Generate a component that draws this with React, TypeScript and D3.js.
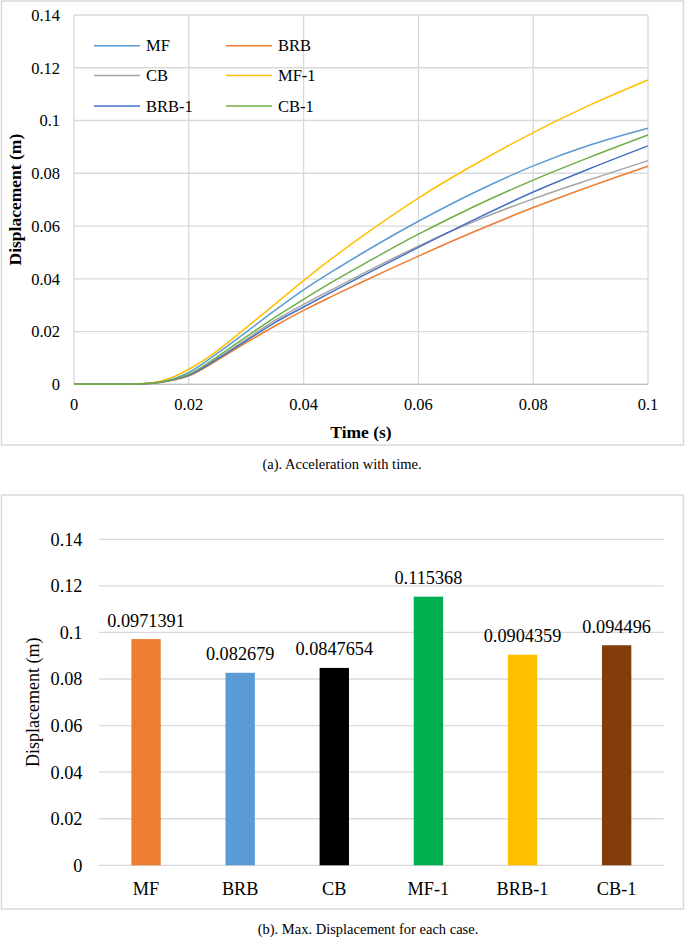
import React from "react";
import * as d3 from "d3";

const times = [0, 0.008, 0.012, 0.015, 0.0175, 0.02, 0.025, 0.03, 0.035, 0.04, 0.045, 0.05, 0.06, 0.07, 0.08, 0.09, 0.1];
const seriesNames = ["MF", "BRB", "CB", "MF-1", "BRB-1", "CB-1"];
const lineColors = ["#5B9BD5", "#ED7D31", "#A5A5A5", "#FFC000", "#4472C4", "#70AD47"];
const mfLine = [0, 0, 0.0002, 0.001, 0.0022, 0.0045, 0.0118, 0.0198, 0.028, 0.0358, 0.0428, 0.0494, 0.0618, 0.073, 0.0828, 0.0908, 0.0971];
const brbLine = [0, 0, 0.0002, 0.0007, 0.0017, 0.0032, 0.0092, 0.0158, 0.0221, 0.028, 0.0334, 0.0386, 0.0486, 0.0581, 0.067, 0.0751, 0.0827];
const cbLine = [0, 0, 0.0002, 0.0008, 0.0018, 0.0035, 0.0098, 0.017, 0.0242, 0.0303, 0.036, 0.0416, 0.0524, 0.062, 0.0703, 0.0777, 0.0848];
const mf1Line = [0, 0, 0.0003, 0.0012, 0.003, 0.0057, 0.0128, 0.0215, 0.0303, 0.0393, 0.0478, 0.0558, 0.0706, 0.0836, 0.0954, 0.106, 0.1154];
const brb1Line = [0, 0, 0.0002, 0.0008, 0.0018, 0.0034, 0.0096, 0.0165, 0.0234, 0.0293, 0.0351, 0.0408, 0.0519, 0.0627, 0.0729, 0.0819, 0.0904];
const cb1Line = [0, 0, 0.0002, 0.0008, 0.002, 0.0038, 0.0105, 0.018, 0.0254, 0.0322, 0.0388, 0.045, 0.0569, 0.0677, 0.0774, 0.0862, 0.0945];
const lineValues = [mfLine, brbLine, cbLine, mf1Line, brb1Line, cb1Line];

const xTicks = [0, 0.02, 0.04, 0.06, 0.08, 0.1];
const yTicks = [0, 0.02, 0.04, 0.06, 0.08, 0.1, 0.12, 0.14];

const barCategories = ["MF", "BRB", "CB", "MF-1", "BRB-1", "CB-1"];
const barValues = [0.0971391, 0.082679, 0.0847654, 0.115368, 0.0904359, 0.094496];
const barLabels = ["0.0971391", "0.082679", "0.0847654", "0.115368", "0.0904359", "0.094496"];
const barColors = ["#ED7D31", "#5B9BD5", "#000000", "#00B050", "#FFC000", "#843C0C"];

const FONT = "'Liberation Serif', 'Times New Roman', serif";
const GRID = "#D9D9D9";

function fmt(v: number) {
  return String(+v.toFixed(2));
}

export default function App() {
  // Top chart
  const x = d3.scaleLinear().domain([0, 0.1]).range([74, 648]);
  const y = d3.scaleLinear().domain([0, 0.14]).range([384.3, 15]);
  const line = d3
    .line<[number, number]>()
    .x((d) => x(d[0]))
    .y((d) => y(d[1]))
    .curve(d3.curveMonotoneX);

  const legendPos = [
    [94, 45.7],
    [226, 45.7],
    [94, 75.5],
    [226, 75.5],
    [94, 106],
    [226, 106],
  ];

  // Bottom chart
  const xb = d3.scaleBand<string>().domain(barCategories).range([99, 663.7]).padding(0);
  const yb = d3.scaleLinear().domain([0, 0.14]).range([865.3, 539.3]);
  const barW = xb.bandwidth() * 0.312;

  return (
    <svg
      width={685}
      height={939}
      style={{ position: "absolute", left: 0, top: 0, background: "#fff" }}
      fontFamily={FONT}
    >
      <rect x={0} y={0} width={685} height={939} fill="#fff" />
      {/* Top chart frame */}
      <rect x={1.5} y={1} width={682} height={444} fill="#fff" stroke={GRID} strokeWidth={1.5} />
      {yTicks.map((t) => (
        <line key={"gy" + t} x1={x(0)} x2={x(0.1)} y1={y(t)} y2={y(t)} stroke={GRID} strokeWidth={1.3} />
      ))}
      {xTicks.map((t) => (
        <line key={"gx" + t} x1={x(t)} x2={x(t)} y1={y(0)} y2={y(0.14)} stroke={GRID} strokeWidth={1.3} />
      ))}
      <line x1={x(0)} x2={x(0.1)} y1={y(0)} y2={y(0)} stroke="#BFBFBF" strokeWidth={1.3} />
      {yTicks.map((t) => (
        <text key={"ty" + t} x={60} y={y(t)} dy="0.35em" textAnchor="end" fontSize={16.5} fill="#000">
          {fmt(t)}
        </text>
      ))}
      {xTicks.map((t) => (
        <text key={"tx" + t} x={x(t)} y={409.5} textAnchor="middle" fontSize={16.5} fill="#000">
          {fmt(t)}
        </text>
      ))}
      <text x={361} y={437.5} textAnchor="middle" fontSize={17.5} fontWeight="bold" fill="#000">
        Time (s)
      </text>
      <text
        transform={`translate(21, ${(y(0) + y(0.14)) / 2}) rotate(-90)`}
        textAnchor="middle"
        fontSize={17.5}
        fontWeight="bold"
        fill="#000"
      >
        Displacement (m)
      </text>
      {lineValues.map((vals, i) => (
        <path
          key={"l" + i}
          d={line(times.map((t, j) => [t, vals[j]] as [number, number])) || ""}
          fill="none"
          stroke={lineColors[i]}
          strokeWidth={1.5}
        />
      ))}
      {seriesNames.map((n, i) => (
        <g key={"lg" + i}>
          <line
            x1={legendPos[i][0]}
            x2={legendPos[i][0] + 46}
            y1={legendPos[i][1]}
            y2={legendPos[i][1]}
            stroke={lineColors[i]}
            strokeWidth={1.5}
          />
          <text x={legendPos[i][0] + 52} y={legendPos[i][1]} dy="0.35em" fontSize={16.5} fill="#000">
            {n}
          </text>
        </g>
      ))}
      <text x={342} y={469} textAnchor="middle" fontSize={14.5} fill="#000">
        (a). Acceleration with time.
      </text>

      {/* Bottom chart frame */}
      <rect x={1.5} y={495} width={682} height={414} fill="#fff" stroke={GRID} strokeWidth={1.5} />
      {yTicks.map((t) => (
        <line key={"bgy" + t} x1={99} x2={663.7} y1={yb(t)} y2={yb(t)} stroke={GRID} strokeWidth={1.3} />
      ))}
      {yTicks.map((t) => (
        <text key={"bty" + t} x={82.5} y={yb(t)} dy="0.35em" textAnchor="end" fontSize={18.3} fill="#000">
          {fmt(t)}
        </text>
      ))}
      {barCategories.map((c, i) => {
        const cx = (xb(c) as number) + xb.bandwidth() / 2;
        return (
          <g key={"b" + c}>
            <rect
              x={cx - barW / 2}
              y={yb(barValues[i])}
              width={barW}
              height={yb(0) - yb(barValues[i])}
              fill={barColors[i]}
            />
            <text x={cx} y={yb(barValues[i]) - 12.5} textAnchor="middle" fontSize={18.3} fill="#000">
              {barLabels[i]}
            </text>
            <text x={cx} y={894.5} textAnchor="middle" fontSize={18.3} fill="#000">
              {c}
            </text>
          </g>
        );
      })}
      <text
        transform={`translate(39, ${(yb(0) + yb(0.14)) / 2}) rotate(-90)`}
        textAnchor="middle"
        fontSize={18}
        fill="#000"
      >
        Displacement (m)
      </text>
      <text x={368} y={934} textAnchor="middle" fontSize={14.5} fill="#000">
        (b). Max. Displacement for each case.
      </text>
    </svg>
  );
}
